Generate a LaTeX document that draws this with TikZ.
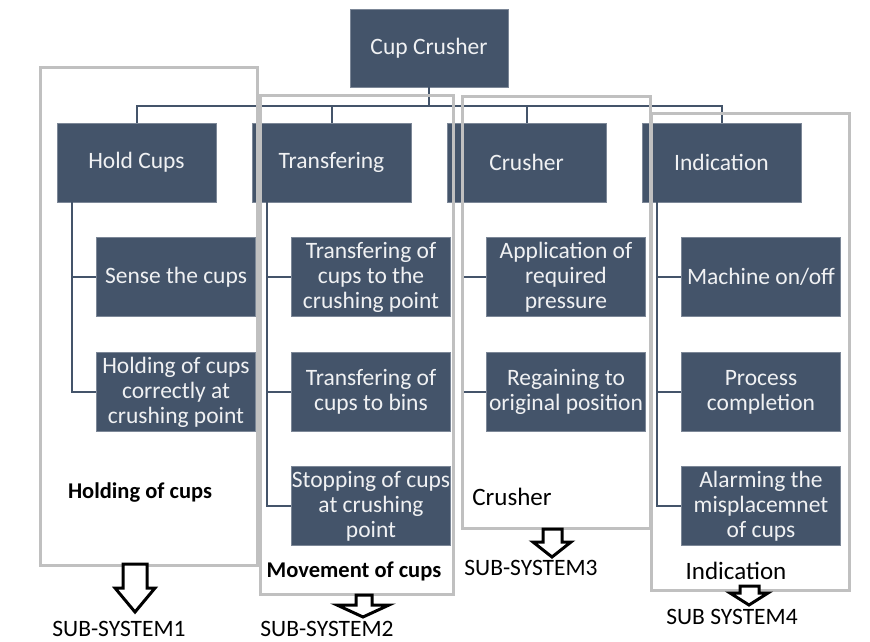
\documentclass[tikz,border=0pt]{standalone}
\usepackage{fontspec}
\setmainfont{Carlito}
\usepackage{tikz}
\usetikzlibrary{positioning}
\usepackage{xcolor}
\definecolor{slate}{RGB}{68,84,106}
\definecolor{framegray}{RGB}{192,192,192}

\begin{document}
\begin{tikzpicture}[x=1pt, y=-1pt,
  box/.style={draw=slate!70, fill=slate, text=white!92!slate, minimum width=159pt, minimum height=79pt,
              inner sep=0pt, align=center, font=\fontsize{23.5}{25}\selectfont},
  link/.style={draw=slate, line width=2pt},
  frame/.style={draw=framegray, line width=3pt},
  grouplabel/.style={font=\fontsize{22.5}{24}\selectfont\bfseries},
  sublabel/.style={inner sep=1pt, font=\fontsize{23.5}{24}\selectfont},
  blockarrow/.style={draw=black, line width=3pt, fill=white, line join=miter},
]
\useasboundingbox (0,0) rectangle (870,642);

% Top level
\node[box, minimum width=158pt, minimum height=78pt] (root) at (429,48) {Cup Crusher};
\coordinate (bus) at (429,106);

% Functions
\node[box] (hold)  at (136.5,162.5) {Hold Cups};
\node[box] (trans) at (331.5,162.5) {Transfering};
\node[box] (crush) at (526.5,162.5) {Crusher};
\node[box] (ind)   at (721.5,162.5) {Indication};

\foreach \n in {hold,trans,crush,ind}
  \draw[link] (root.south) -- (root.south |- bus) -| (\n.north);

% Sub functions
\node[box] (h1) at (176,277) {Sense the cups};
\node[box] (h2) at (176,392) {Holding of cups\\correctly at\\crushing point};

\node[box] (t1) at (371,277) {Transfering of\\cups to the\\crushing point};
\node[box] (t2) at (371,392) {Transfering of\\cups to bins};
\node[box] (t3) at (371,506) {Stopping of cups\\at crushing\\point};

\node[box] (c1) at (566,277) {Application of\\required\\pressure};
\node[box] (c2) at (566,392) {Regaining to\\original position};

\node[box] (i1) at (761,277) {Machine on/off};
\node[box] (i2) at (761,392) {Process\\completion};
\node[box] (i3) at (761,506) {Alarming the\\misplacemnet\\of cups};

\foreach \p/\c in {hold/h1,hold/h2,trans/t1,trans/t2,trans/t3,crush/c1,crush/c2,ind/i1,ind/i2,ind/i3}
  \draw[link] ([xshift=15pt]\p.south west) |- (\c.west);

% Sub-system frames
\draw[frame] (40,68) rectangle (257,565);
\draw[frame] (260,95) rectangle (453,594);
\draw[frame] (462,96) rectangle (650,528);
\draw[frame] (651,113) rectangle (849,590);

\node[grouplabel] (g1) at (140,493) {Holding of cups};
\node[grouplabel] (g2) at (354,571) {Movement of cups};
\node[sublabel, font=\fontsize{25}{26}\selectfont] (g3) at (512,497) {Crusher};
\node[sublabel, font=\fontsize{25}{26}\selectfont] (g4) at (736,571) {Indication};

% Arrows to sub-systems
\draw[blockarrow] (123,564) -- (147,564) -- (147,588) -- (155,588) -- (135,612) -- (115,588) -- (123,588) -- cycle;
\draw[blockarrow] (356,595) -- (372,595) -- (372,605) -- (389,605) -- (363,617) -- (337,605) -- (356,605) -- cycle;
\draw[blockarrow] (543,529) -- (562,529) -- (562,542) -- (571,542) -- (552,557) -- (533,542) -- (543,542) -- cycle;
\draw[blockarrow] (740,586) -- (759,586) -- (759,593) -- (768,593) -- (749,605) -- (730,593) -- (740,593) -- cycle;

\node[sublabel] (s1) at (119,629) {SUB-SYSTEM1};
\node[sublabel] (s2) at (327,629) {SUB-SYSTEM2};
\node[sublabel] (s3) at (531,568) {SUB-SYSTEM3};
\node[sublabel] (s4) at (732,617) {SUB SYSTEM4};
\end{tikzpicture}
\end{document}
